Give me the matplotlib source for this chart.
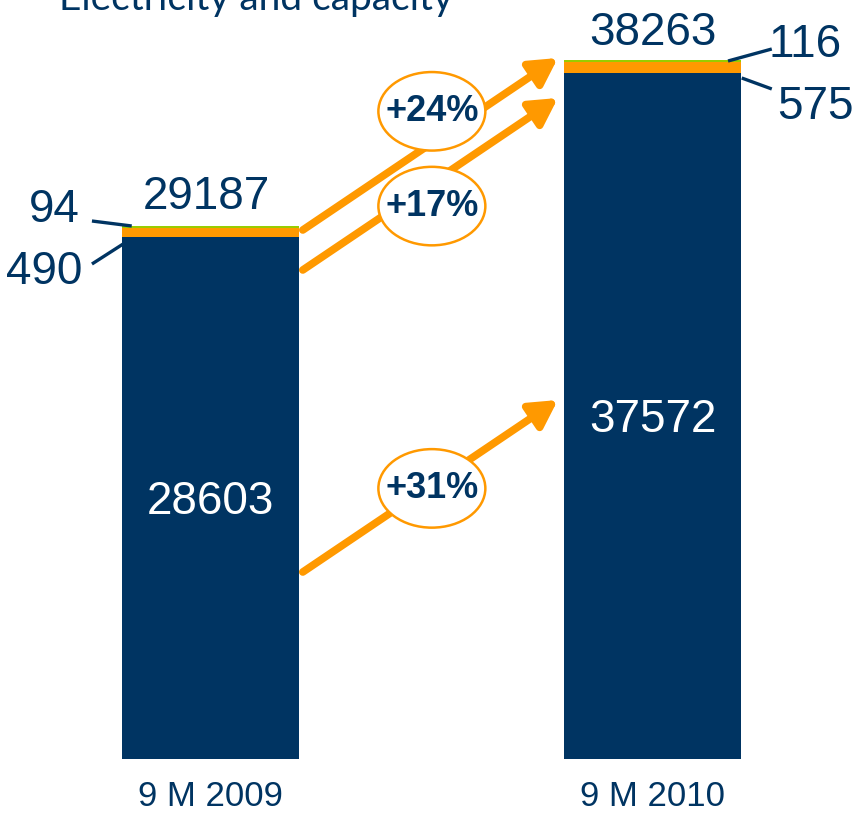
import matplotlib.pyplot as plt
from matplotlib.patches import Ellipse, FancyArrowPatch

# values
periods = ["9 M 2009", "9 M 2010"]
electricity = [28603, 37572]
capacity = [490, 575]
other = [94, 116]
totals = [29187, 38263]
growth = ["+31%", "+17%", "+24%"]

NAVY = "#003462"
ORANGE = "#FF9900"
GREEN = "#99CC00"
NUM_FONT = ["Liberation Sans", "DejaVu Sans"]

fig = plt.figure(figsize=(8.54, 8.13), dpi=100)
ax = fig.add_axes([0, 0, 1, 1])
ax.set_axis_off()
ax.set_xlim(-0.477, 1.455)
ax.set_ylim(-2957, 41566)

x = [0, 1]
W = 0.40
ax.bar(x, electricity, width=W, color=NAVY, zorder=2)
ax.bar(x, capacity, width=W, bottom=electricity, color=ORANGE, zorder=2)
bot3 = [e + c for e, c in zip(electricity, capacity)]
ax.bar(x, other, width=W, bottom=bot3, color=GREEN, zorder=2)

FS = 33
# segment values and totals
ax.text(0, 14075, f"{electricity[0]}", color="white", fontsize=FS, ha="center", va="center", family=NUM_FONT)
ax.text(1, 18565, f"{electricity[1]}", color="white", fontsize=FS, ha="center", va="center", family=NUM_FONT)
ax.text(-0.01, 30800, f"{totals[0]}", color=NAVY, fontsize=FS, ha="center", va="center", family=NUM_FONT)
ax.text(1.0, 39780, f"{totals[1]}", color=NAVY, fontsize=FS, ha="center", va="center", family=NUM_FONT)

# small values with leader lines
ax.text(-0.353, 30066, f"{other[0]}", color=NAVY, fontsize=FS, ha="center", va="center", family=NUM_FONT)
ax.text(-0.376, 26670, f"{capacity[0]}", color=NAVY, fontsize=FS, ha="center", va="center", family=NUM_FONT)
ax.text(1.344, 39100, f"{other[1]}", color=NAVY, fontsize=FS, ha="center", va="center", family=NUM_FONT)
ax.text(1.367, 35706, f"{capacity[1]}", color=NAVY, fontsize=FS, ha="center", va="center", family=NUM_FONT)
ax.plot([-0.269, -0.179], [29463, 29190], color=NAVY, lw=2.4, solid_capstyle="butt")
ax.plot([-0.269, -0.195], [27108, 28258], color=NAVY, lw=2.4, solid_capstyle="butt")
ax.plot([1.170, 1.269], [38225, 38883], color=NAVY, lw=2.4, solid_capstyle="butt")
ax.plot([1.201, 1.269], [37295, 36693], color=NAVY, lw=2.4, solid_capstyle="butt")

# growth arrows with ellipse badges
arrow_start = [10240, 26780, 28970]
arrow_end = [19660, 36200, 38390]
badge_y = [14820, 30280, 35470]
for y0, y1, label, by in zip(arrow_start, arrow_end, growth, badge_y):
    ax.add_patch(FancyArrowPatch((0.208, y0), (0.785, y1),
                                 arrowstyle="-|>,head_length=0.9,head_width=0.5",
                                 mutation_scale=18, color=ORANGE, lw=5.5, zorder=3,
                                 shrinkA=0, shrinkB=0))
    ax.add_patch(Ellipse((0.5, by), 0.242, 4300, facecolor="white", edgecolor=ORANGE, lw=1.8, zorder=4))
    ax.text(0.5, by, label, color=NAVY, fontsize=26, fontweight="bold", ha="center", va="center",
            family=NUM_FONT, zorder=5)

# category labels
for xi, p in zip(x, periods):
    ax.text(xi, -2574, p, color=NAVY, fontsize=25, ha="center", va="baseline", family=NUM_FONT)

# title, clipped at the top edge as in the source slide
fig.text(0.30, 1 - 10 / 813, "Electricity and capacity", color=NAVY, fontsize=28,
         ha="center", va="baseline", family=["Lato", "DejaVu Sans"])

fig.savefig("out.png", dpi=100)
